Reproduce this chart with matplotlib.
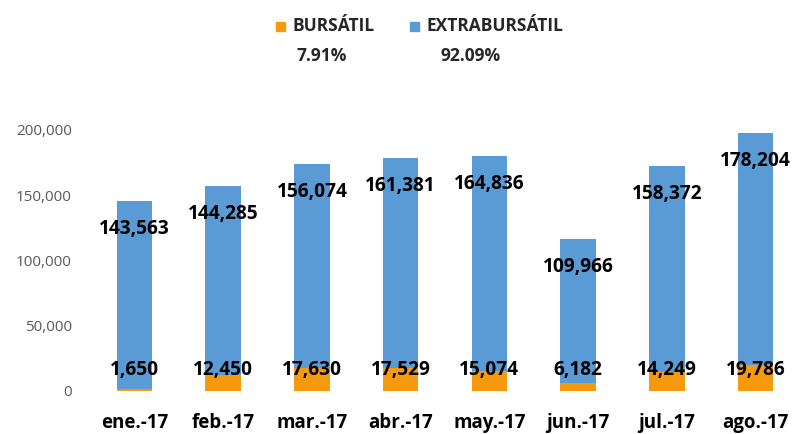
import matplotlib
matplotlib.use("Agg")
import matplotlib.pyplot as plt
from matplotlib.patches import Rectangle

months = ["ene.-17", "feb.-17", "mar.-17", "abr.-17", "may.-17", "jun.-17", "jul.-17", "ago.-17"]
bursatil = [1650, 12450, 17630, 17529, 15074, 6182, 14249, 19786]
extrabursatil = [143563, 144285, 156074, 161381, 164836, 109966, 158372, 178204]
legend_names = ["BURSÁTIL", "EXTRABURSÁTIL"]
legend_pcts = ["7.91%", "92.09%"]
yticks = [0, 50000, 100000, 150000, 200000]

plt.rcParams["font.family"] = ["Open Sans", "DejaVu Sans"]

C_ORANGE = "#F7990C"
C_BLUE = "#5B9BD5"

fig = plt.figure(figsize=(7.94, 4.34), dpi=100)
ax = fig.add_axes([90 / 794, 1 - 391 / 434, (800 - 90) / 794, (391 - 130) / 434])

x = list(range(len(months)))
ax.bar(x, bursatil, width=0.4, color=C_ORANGE)
ax.bar(x, extrabursatil, width=0.4, bottom=bursatil, color=C_BLUE)

for i in x:
    ax.annotate(f"{bursatil[i]:,}", (i, 0), xytext=(0, 21), textcoords="offset pixels",
                ha="center", va="center", fontsize=13.8, fontweight="bold", color="black")
    top = bursatil[i] + extrabursatil[i]
    ax.annotate(f"{extrabursatil[i]:,}", (i, top), xytext=(0, -28), textcoords="offset pixels",
                ha="center", va="center", fontsize=13.8, fontweight="bold", color="black")

ax.set_xlim(-0.5, 7.5)
ax.set_ylim(0, 200000)
ax.set_yticks(yticks)
ax.set_yticklabels([f"{v:,}" for v in yticks], color="#595959", fontsize=11)
ax.set_xticks(x)
ax.set_xticklabels(months, fontsize=13.5, fontweight="bold")
ax.tick_params(axis="both", length=0)
ax.tick_params(axis="y", pad=13)
ax.tick_params(axis="x", pad=16)
for s in ax.spines.values():
    s.set_visible(False)

# legend
items = [(276, 293, 322, C_ORANGE), (410, 427, 471, C_BLUE)]
for (sx, tx, cx, col), name, pct in zip(items, legend_names, legend_pcts):
    fig.patches.append(Rectangle((sx / 794, 1 - 31 / 434), 9 / 794, 9 / 434,
                                 transform=fig.transFigure, color=col))
    fig.text(tx / 794, 1 - 26 / 434, name, ha="left", va="center",
             fontsize=12.5, fontweight="bold", color="#262626")
    fig.text(cx / 794, 1 - 56 / 434, pct, ha="center", va="center",
             fontsize=12.5, fontweight="bold", color="#262626")

fig.savefig("out.png", dpi=100)
